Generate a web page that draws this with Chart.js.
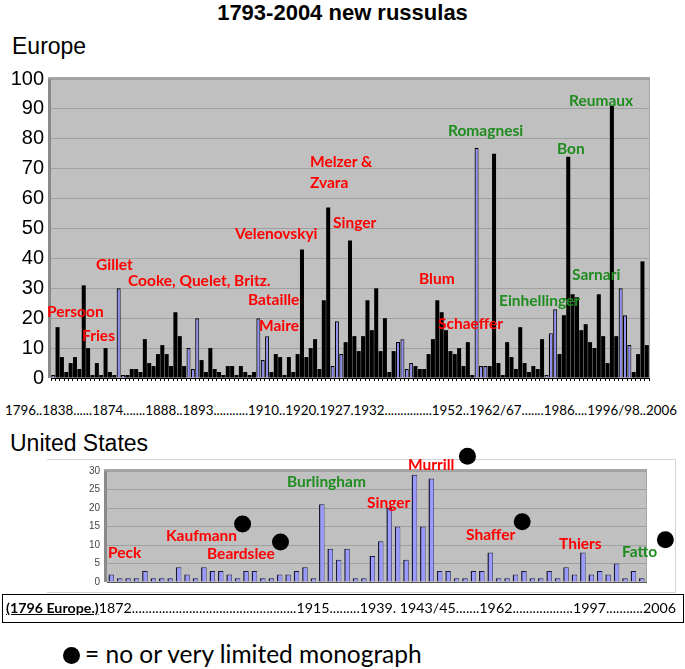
<!DOCTYPE html>
<html>
<head>
<meta charset="utf-8">
<script src="https://cdn.jsdelivr.net/npm/chart.js@4.4.1/dist/chart.umd.min.js"></script>
<style>
  body { margin: 0; background: #fff; width: 685px; height: 669px; position: relative; overflow: hidden; font-family: 'Liberation Sans', Arial, sans-serif; }
  .abs { position: absolute; white-space: nowrap; }
  .lbl { position: absolute; white-space: nowrap; font-family: Lato, 'Open Sans', sans-serif; font-weight: bold; font-size: 15.5px; line-height: 15px; color: #ff0000; }
  .grn { color: #1e8c1e; }
  canvas { position: absolute; left: 0; }
</style>
</head>
<body>

<div class="abs" style="left:0;width:685px;top:0;text-align:center;font-weight:bold;font-size:22px;">1793-2004 new russulas</div>
<div class="abs" style="left:12px;top:33px;font-size:23px;">Europe</div>

<div style="position:absolute;left:0;top:60px;width:685px;height:337px;"><canvas id="europeChart"></canvas></div>

<div class="lbl" style="left:47px;top:304px;">Persoon</div>
<div class="lbl" style="left:82px;top:328px;">Fries</div>
<div class="lbl" style="left:96px;top:257px;">Gillet</div>
<div class="lbl" style="left:128px;top:273px;">Cooke, Quelet, Britz.</div>
<div class="lbl" style="left:235px;top:226px;">Velenovskyi</div>
<div class="lbl" style="left:248px;top:292px;">Bataille</div>
<div class="lbl" style="left:259px;top:318px;">Maire</div>
<div class="lbl" style="left:310px;top:154px;">Melzer &amp;</div>
<div class="lbl" style="left:310px;top:175px;">Zvara</div>
<div class="lbl" style="left:333px;top:215px;">Singer</div>
<div class="lbl" style="left:419px;top:271px;">Blum</div>
<div class="lbl" style="left:438px;top:316px;">Schaeffer</div>
<div class="lbl grn" style="left:448px;top:123px;">Romagnesi</div>
<div class="lbl grn" style="left:557px;top:141px;">Bon</div>
<div class="lbl grn" style="left:569px;top:93px;">Reumaux</div>
<div class="lbl grn" style="left:572px;top:267px;">Sarnari</div>
<div class="lbl grn" style="left:499px;top:293px;">Einhellinger</div>

<div id="euroYears" class="abs" style="left:5px;top:402px;font-family:Lato,sans-serif;font-size:13px;transform-origin:left top;"></div>

<div class="abs" style="left:10px;top:430px;font-size:23px;">United States</div>
<div style="position:absolute;left:47px;top:459px;width:628px;height:132px;border:1px solid #d4d4d4;border-left:none;"></div>

<div style="position:absolute;left:0;top:440px;width:685px;height:155px;"><canvas id="usChart"></canvas></div>

<div class="lbl" style="left:108px;top:545px;">Peck</div>
<div class="lbl" style="left:166px;top:528px;">Kaufmann</div>
<div class="lbl" style="left:207px;top:546px;">Beardslee</div>
<div class="lbl grn" style="left:287px;top:474px;">Burlingham</div>
<div class="lbl" style="left:367px;top:495px;">Singer</div>
<div class="lbl" style="left:408px;top:457px;">Murrill</div>
<div class="lbl" style="left:466px;top:527px;">Shaffer</div>
<div class="lbl" style="left:559px;top:536px;">Thiers</div>
<div class="lbl grn" style="left:622px;top:544px;">Fatto</div>

<div style="position:absolute;left:2px;top:594px;width:680px;height:27px;border:1.5px solid #000;"></div>
<div id="usYears" class="abs" style="left:6px;top:600px;font-family:Lato,sans-serif;font-size:13px;transform-origin:left top;"><b style="text-decoration:underline;">(1796 Europe.)</b><span id="usYearsTxt"></span></div>

<div style="position:absolute;left:63px;top:647px;width:17px;height:17px;border-radius:50%;background:#000;"></div>
<div class="abs" style="left:85px;top:639px;font-family:Lato,sans-serif;font-size:24.5px;">= no or very limited monograph</div>

<script>
// europe, one bar per publication year group
var europeValues = [1, 17, 7, 2, 5, 7, 3, 31, 10, 1, 5, 1, 10, 2, 1, 30, 1, 1, 3, 3,
  2, 13, 5, 4, 8, 11, 8, 4, 22, 14, 4, 10, 3, 20, 6, 2, 10, 3, 2, 1,
  4, 4, 1, 4, 2, 1, 2, 20, 6, 14, 2, 8, 7, 1, 7, 2, 8, 43, 7, 10,
  13, 3, 26, 57, 4, 19, 8, 12, 46, 14, 9, 14, 26, 16, 30, 9, 20, 2, 9, 12,
  13, 3, 5, 4, 3, 3, 8, 13, 26, 22, 16, 9, 8, 10, 4, 12, 1, 77, 4, 4,
  4, 75, 5, 1, 12, 7, 3, 17, 5, 2, 4, 3, 13, 1, 15, 23, 8, 21, 74, 28,
  27, 16, 18, 12, 10, 28, 14, 5, 91, 14, 30, 21, 11, 2, 8, 39, 11];
// positions of the bars drawn in the light colour
var europeMarked = [0, 15, 16, 31, 32, 33, 47, 48, 49, 64, 65, 66, 79, 80, 81, 82,
  97, 98, 99, 113, 114, 115, 130, 131, 132];
var europeYears = '1796..1838......1874.......1888..1893...........1910..1920.1927.1932...............1952..1962/67.......1986....1996/98..2006';
var europeTicks = [0, 10, 20, 30, 40, 50, 60, 70, 80, 90, 100];

var usValues = [2, 1, 1, 1, 3, 1, 1, 1, 4, 2, 1, 4, 3, 3, 2, 1, 3, 3, 1, 1,
  2, 2, 3, 4, 1, 21, 9, 6, 9, 1, 1, 7, 11, 20, 15, 6, 29, 15, 28, 3,
  3, 1, 1, 3, 3, 8, 1, 1, 2, 3, 1, 1, 3, 1, 4, 2, 8, 2, 3, 2,
  5, 1, 3, 1];
var usTicks = [0, 5, 10, 15, 20, 25, 30];
var usYears = '1872.................................................1915.........1939. 1943/45.......1962..................1997...........2006';
// black dots: bar position and height on the us scale
var dotPosition = [15.6, 20.1, 42.3, 48.8, 65.8];
var dotValue = [15.7, 10.8, 34, 16.3, 11.4];

var plotBack = {
  id: 'plotBack',
  beforeDraw: function (chart) {
    var a = chart.chartArea;
    var c = chart.ctx;
    c.save();
    c.fillStyle = '#c0c0c0';
    c.fillRect(a.left, a.top, a.right - a.left, a.bottom - a.top);
    c.fillStyle = '#8a8a8a';
    c.fillRect(a.left - 3, a.top - 1, 3, a.bottom - a.top + 1);
    c.fillStyle = '#a6a6a6';
    c.fillRect(a.left - 3, a.top - 2, a.right - a.left + 4, 2);
    c.fillRect(a.right, a.top - 2, 1, a.bottom - a.top + 2);
    c.restore();
  }
};

// dots go through the scales but may sit outside the plot area
var monoDots = {
  id: 'monoDots',
  afterDatasetsDraw: function (chart) {
    var sx = chart.scales.x;
    var sy = chart.scales.y;
    var c = chart.ctx;
    c.save();
    c.fillStyle = '#000';
    for (var k = 0; k < dotPosition.length; k++) {
      c.beginPath();
      c.arc(sx.getPixelForValue(dotPosition[k]), sy.getPixelForValue(dotValue[k]), 8.5, 0, Math.PI * 2);
      c.fill();
    }
    c.restore();
  }
};

var labelsEu = [];
var blackData = [];
var blueData = [];
for (var i = 0; i < europeValues.length; i++) {
  labelsEu.push(i);
  if (europeMarked.indexOf(i) >= 0) {
    blackData.push(null);
    blueData.push(europeValues[i]);
  } else {
    blackData.push(europeValues[i]);
    blueData.push(null);
  }
}

var ctx = document.getElementById('europeChart').getContext('2d');
var europeChart = new Chart(ctx, {
  type: 'bar',
  data: {
    labels: labelsEu,
    datasets: [
      { data: blackData, backgroundColor: '#000', borderWidth: 0, barPercentage: 0.92, categoryPercentage: 1 },
      { data: blueData, backgroundColor: '#8f8ff5', borderColor: '#000', borderWidth: { left: 1.2, top: 1.2, right: 1, bottom: 0 }, barPercentage: 0.92, categoryPercentage: 1 }
    ]
  },
  options: {
    responsive: true,
    maintainAspectRatio: false,
    animation: false,
    layout: { padding: { top: 19, right: 36, left: 0, bottom: 0 } },
    plugins: { legend: { display: false }, tooltip: { enabled: false } },
    scales: {
      x: {
        stacked: true,
        ticks: { display: false },
        grid: { drawOnChartArea: false, drawTicks: true, tickLength: 3, color: '#000' },
        border: { display: true, color: '#000' },
        afterFit: function (s) { s.height = 13; }
      },
      y: {
        stacked: true,
        min: 0, max: 100,
        afterBuildTicks: function (s) { s.ticks = europeTicks.map(function (v) { return { value: v }; }); },
        ticks: { color: '#000', padding: 7, font: { family: 'Liberation Sans', size: 20 } },
        grid: { color: '#a0a0a0', drawTicks: false },
        border: { display: false },
        afterFit: function (s) { s.width = 51; }
      }
    }
  },
  plugins: [plotBack]
});

var labelsUs = [];
for (var j = 0; j < usValues.length; j++) labelsUs.push(j);

var ctx2 = document.getElementById('usChart').getContext('2d');
var usChart = new Chart(ctx2, {
  type: 'bar',
  data: {
    labels: labelsUs,
    datasets: [
      { data: usValues, backgroundColor: '#9999ff', borderColor: '#1a1a3a', borderWidth: { left: 1.5, top: 1, right: 0.7, bottom: 0 }, barPercentage: 0.66, categoryPercentage: 1 }
    ]
  },
  options: {
    responsive: true,
    maintainAspectRatio: false,
    animation: false,
    layout: { padding: { top: 31, right: 39, left: 0, bottom: 0 } },
    plugins: { legend: { display: false }, tooltip: { enabled: false } },
    scales: {
      x: {
        ticks: { display: false },
        grid: { display: false },
        border: { display: true, color: '#555' },
        afterFit: function (s) { s.height = 11; }
      },
      y: {
        min: 0, max: 30,
        afterBuildTicks: function (s) { s.ticks = usTicks.map(function (v) { return { value: v }; }); },
        ticks: { color: '#444', padding: 7, font: { family: 'Liberation Sans', size: 10 } },
        grid: { color: '#a0a0a0', drawTicks: false },
        border: { display: false },
        afterFit: function (s) { s.width = 107; }
      }
    }
  },
  plugins: [plotBack, monoDots]
});

// year lines stretched to the width they have in the picture
function fitLine(id, width) {
  var el = document.getElementById(id);
  var w = el.getBoundingClientRect().width;
  el.style.transform = 'scaleX(' + (width / w) + ')';
}
document.getElementById('euroYears').textContent = europeYears;
document.getElementById('usYearsTxt').textContent = usYears;
fitLine('euroYears', 672);
fitLine('usYears', 670);
</script>
</body>
</html>
